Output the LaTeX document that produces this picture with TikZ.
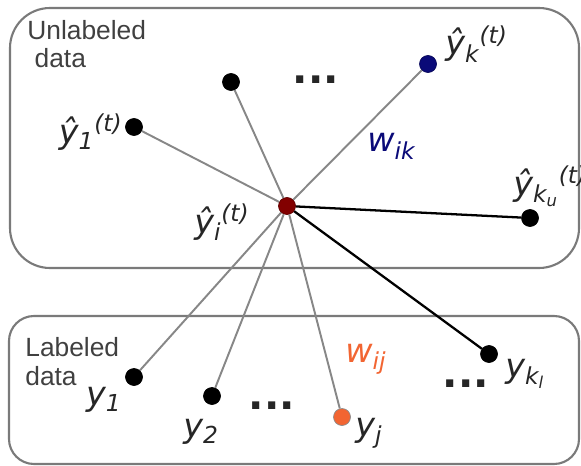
\documentclass[tikz,border=0pt]{standalone}
\usepackage{fontspec}
\setmainfont{DejaVu Sans}
\newfontfamily\boxfont{Liberation Sans}
\usetikzlibrary{positioning}
\definecolor{darkred}{HTML}{820000}
\definecolor{navyblue}{HTML}{0A0A78}
\definecolor{wijorange}{HTML}{F26532}
\definecolor{edgegray}{HTML}{878787}
\definecolor{boxgray}{HTML}{7A7A7A}

\begin{document}
\begin{tikzpicture}[x=0.02cm, y=-0.02cm,
  region/.style={draw=boxgray, line width=1.2pt, rounded corners=#1},
  region/.default=0.8cm,
  dot/.style={circle, fill=#1, draw=#1!75!black, line width=0.4pt, minimum size=0.34cm, inner sep=0pt},
  dot/.default=black,
  lbl/.style={font=\fontsize{19}{22}\selectfont\itshape, text=black!85, inner sep=0pt},
  wlbl/.style={font=\fontsize{19}{22}\selectfont\itshape, text=#1, inner sep=0pt},
  boxtext/.style={font=\boxfont\fontsize{15}{16}\selectfont, text=black!75, align=left, inner sep=0pt},
  ell/.style={font=\fontsize{23}{24}\selectfont\bfseries, text=black!85, inner sep=0pt},
  soft/.style={draw=edgegray, line width=1.1pt},
  hard/.style={draw=black, line width=1.3pt}]
  \useasboundingbox (0,0) rectangle (581,466);
  % the two sets
  \draw[region] (10,8) rectangle (579,268);
  \draw[region=0.5cm] (9,316) rectangle (579,464);
  \node[boxtext, anchor=base west] (unl) at (27,68) {Unlabeled\\\ data};
  \node[boxtext, anchor=base west] (lab) at (25,385) {Labeled\\data};
  % points
  \node[dot=darkred] (ci) at (287,206) {};
  \node[dot] (u0) at (231,82) {};
  \node[dot] (u1) at (134,127) {};
  \node[dot=navyblue] (uk) at (428,64) {};
  \node[dot] (uku) at (530,218) {};
  \node[dot] (l1) at (134,377) {};
  \node[dot] (l2) at (212,396) {};
  \node[dot=wijorange, draw=black!45] (lj) at (342,417) {};
  \node[dot] (lkl) at (489,354) {};
  % edges
  \draw[soft] (ci) -- (u0);
  \draw[soft] (ci) -- (u1);
  \draw[soft] (ci) -- (uk);
  \draw[soft] (ci) -- (l1);
  \draw[soft] (ci) -- (l2);
  \draw[soft] (ci) -- (lj);
  \draw[hard] (ci) -- (uku);
  \draw[hard] (ci) -- (lkl);
  % labels
  \node[lbl, anchor=base east] (ci-t) at ([shift={(-37,27)}]ci.center) {ŷ\textsubscript{i}\textsuperscript{(t)}};
  \node[lbl, anchor=base east] (u1-t) at ([shift={(-11,16)}]u1.center) {ŷ\textsubscript{1}\textsuperscript{(t)}};
  \node[lbl, anchor=base west] (uk-t) at ([shift={(17,-9)}]uk.center) {ŷ\textsubscript{k}\textsuperscript{(t)}};
  \node[lbl, anchor=base west] (uku-t) at ([shift={(-17,-23)}]uku.center) {ŷ\textsubscript{k\textsubscript{u}}\textsuperscript{(t)}};
  \node[lbl, anchor=base east] (l1-t) at ([shift={(-12,28)}]l1.center) {y\textsubscript{1}};
  \node[lbl, anchor=base] (l2-t) at ([shift={(-11,41)}]l2.center) {y\textsubscript{2}};
  \node[lbl, anchor=base west] (lj-t) at ([shift={(13,19)}]lj.center) {y\textsubscript{j}};
  \node[lbl, anchor=base west] (lkl-t) at ([shift={(16,23)}]lkl.center) {y\textsubscript{k\textsubscript{l}}};
  \node[wlbl=navyblue, anchor=base west] (wik) at (367,152) {w\textsubscript{ik}};
  \node[wlbl=wijorange, anchor=base west] (wij) at (345,362) {w\textsubscript{ij}};
  % ellipses
  \node[ell, anchor=base] (e1) at (316,84) {...};
  \node[ell, anchor=base] (e2) at (272,409) {...};
  \node[ell, anchor=base] (e3) at (466,387) {...};
\end{tikzpicture}
\end{document}
